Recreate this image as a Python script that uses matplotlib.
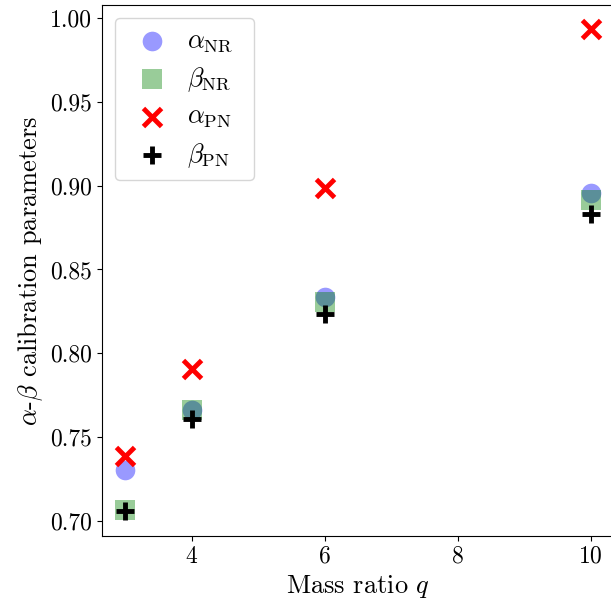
import matplotlib
matplotlib.use("Agg")
import matplotlib.pyplot as plt

plt.rcParams['font.family'] = 'cmr10'
plt.rcParams['mathtext.fontset'] = 'cm'
plt.rcParams['axes.formatter.use_mathtext'] = True
plt.rcParams['font.size'] = 17

# mass ratios
q = [3, 4, 6, 10]
# calibration parameters
alpha_nr = [0.7304, 0.7662, 0.8337, 0.8957]
beta_nr = [0.7066, 0.7660, 0.8307, 0.8915]
alpha_pn = [0.7388, 0.7907, 0.8987, 0.9935]
beta_pn = [0.7060, 0.7610, 0.8235, 0.8830]

fig = plt.figure(figsize=(6.11, 6.08), dpi=100)
ax = fig.add_axes([102/611, 1 - 536/608, 512/611, 531/608])

ax.scatter(q, alpha_nr, s=200, marker='o', color='blue', alpha=0.4, linewidths=0,
           label=r'$\alpha_{\rm NR}$  ')
ax.scatter(q, beta_nr, s=190, marker='s', color='green', alpha=0.4, linewidths=0,
           label=r'$\beta_{\rm NR}$')
ax.scatter(q, alpha_pn, s=170, marker='x', color='red', linewidths=3.5,
           label=r'$\alpha_{\rm PN}$')
ax.scatter(q, beta_pn, s=150, marker='+', color='black', linewidths=3.5,
           label=r'$\beta_{\rm PN}$')

ax.set_xlim(2.65, 10.35)
ax.set_ylim(0.691, 1.0078)
ax.set_xticks([4, 6, 8, 10])
ax.set_yticks([0.70, 0.75, 0.80, 0.85, 0.90, 0.95, 1.00])
ax.set_yticklabels(['0.70', '0.75', '0.80', '0.85', '0.90', '0.95', '1.00'])
ax.tick_params(labelsize=17)

ax.set_xlabel(r'Mass ratio $q$', fontsize=19)
ax.set_ylabel(r'$\alpha$-$\beta$ calibration parameters', fontsize=19)
ax.legend(loc='upper left', fontsize=19, labelspacing=0.42, handletextpad=0.32)

fig.savefig('out.png', dpi=100)
